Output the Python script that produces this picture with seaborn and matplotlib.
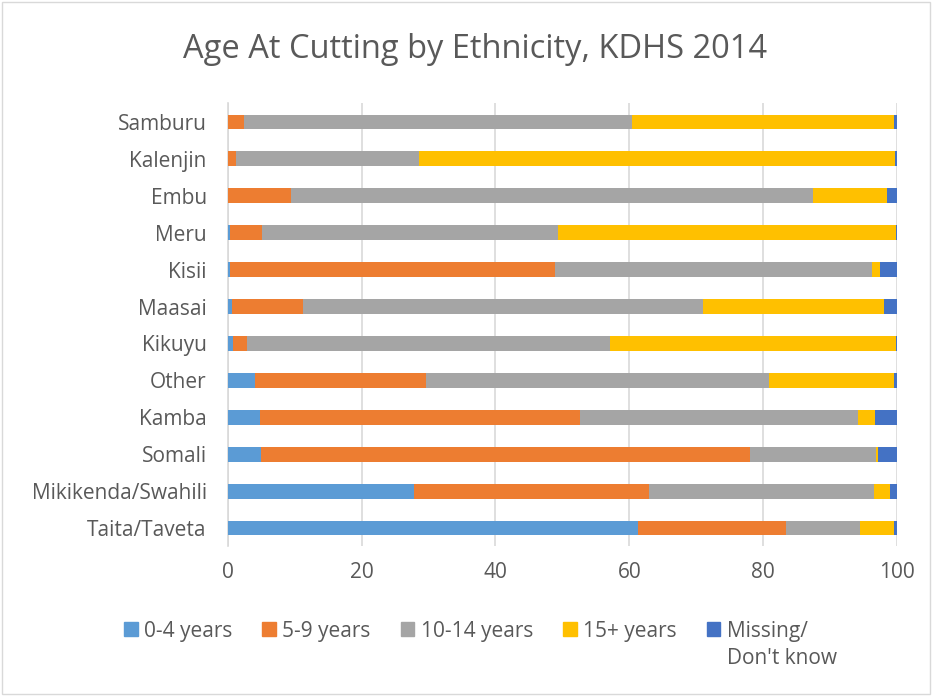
import matplotlib
matplotlib.use("Agg")
import matplotlib.pyplot as plt
import matplotlib.patches as mpatches
import numpy as np
import pandas as pd
import seaborn as sns

categories = ["Samburu", "Kalenjin", "Embu", "Meru", "Kisii", "Maasai", "Kikuyu",
              "Other", "Kamba", "Somali", "Mikikenda/Swahili", "Taita/Taveta"]
series_names = ["0-4 years", "5-9 years", "10-14 years", "15+ years", "Missing/"]
series_name_extra = "Don't know"
age_0_4 = [0.0, 0.0, 0.0, 0.3, 0.3, 0.7, 0.8, 4.1, 4.9, 5.0, 27.8, 61.3]
age_5_9 = [2.4, 1.3, 9.5, 4.9, 48.6, 10.6, 2.1, 25.6, 47.8, 73.0, 35.2, 22.1]
age_10_14 = [58.0, 27.3, 78.0, 44.2, 47.3, 59.7, 54.2, 51.1, 41.5, 18.9, 33.5, 11.0]
age_15p = [39.1, 71.1, 11.0, 50.5, 1.3, 27.0, 42.8, 18.7, 2.5, 0.2, 2.4, 5.1]
missing = [0.5, 0.3, 1.5, 0.1, 2.5, 2.0, 0.1, 0.5, 3.3, 2.9, 1.1, 0.5]
xticks = [0, 20, 40, 60, 80, 100]

colors = ["#5B9BD5", "#ED7D31", "#A5A5A5", "#FFC000", "#4472C4"]
text_color = "#595959"

sns.set_theme(style="white")
plt.rcParams['font.family'] = ['Open Sans', 'DejaVu Sans']

series = [age_0_4, age_5_9, age_10_14, age_15p, missing]
cum = np.cumsum(np.array(series), axis=0)

fig = plt.figure(figsize=(9.33, 6.96), dpi=100)
ax = fig.add_axes([0.244, 0.2148, 0.7175, 0.6365])

for i in reversed(range(len(series))):
    df = pd.DataFrame({"Ethnicity": categories, "value": cum[i]})
    sns.barplot(data=df, x="value", y="Ethnicity", order=categories, color=colors[i],
                orient="h", width=0.4, saturation=1, linewidth=0, ax=ax, zorder=3)

ax.set_xlim(0, 100)
ax.set_xticks(xticks)
ax.set_xticklabels([str(t) for t in xticks])
ax.set_xlabel("")
ax.set_ylabel("")
ax.set_ylim(len(categories) - 0.5, -0.5)
ax.grid(axis="x", color="#D9D9D9", linewidth=1.2, zorder=0)
ax.grid(axis="y", visible=False)
for s in ["top", "right", "bottom"]:
    ax.spines[s].set_visible(False)
ax.spines["left"].set_color("#D9D9D9")
ax.spines["left"].set_linewidth(1.2)
ax.tick_params(axis="both", length=0, labelsize=15, labelcolor=text_color)
ax.tick_params(axis="x", pad=11)
ax.tick_params(axis="y", pad=15)

fig.text(475 / 933, 1 - 49 / 696, "Age At Cutting by Ethnicity, KDHS 2014", ha="center", va="center",
         fontsize=23.5, color=text_color)

handles = [mpatches.Patch(color=c) for c in colors]
leg = fig.legend(handles, series_names, loc="center left", bbox_to_anchor=(124 / 933, 1 - 631 / 696),
                 ncol=5, frameon=False, fontsize=15, handlelength=0.65, handleheight=0.65,
                 handletextpad=0.3, columnspacing=1.45, labelcolor=text_color,
                 borderpad=0, borderaxespad=0)

fig.canvas.draw()
last = leg.get_texts()[-1]
bb = last.get_window_extent(renderer=fig.canvas.get_renderer())
fig.text(bb.x0 / fig.bbox.width, (bb.y0 + bb.y1) / 2 / fig.bbox.height - 28 / 696,
         series_name_extra, ha="left", va="center", fontsize=15, color=text_color)

fig.patches.append(mpatches.Rectangle((0.002, 0.003), 0.995, 0.994, transform=fig.transFigure,
                                      fill=False, edgecolor="#D9D9D9", linewidth=1))

fig.savefig("out.png", dpi=100, facecolor="white")
